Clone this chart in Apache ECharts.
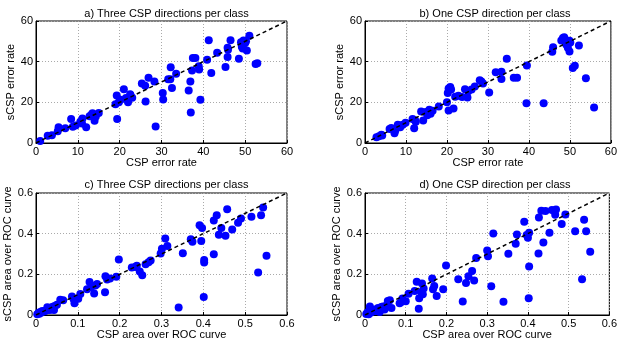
<!DOCTYPE html>
<html><head><meta charset="utf-8">
<script src="https://cdn.jsdelivr.net/npm/echarts@6/dist/echarts.min.js"></script>
<style>html,body{margin:0;padding:0;background:#fff}#c{width:620px;height:347px}</style>
</head><body><div id="c"></div>
<script>
const panelTitles = ['a) Three CSP directions per class','b) One CSP direction per class','c) Three CSP directions per class','d) One CSP direction per class'];
const xNames = ['CSP error rate','CSP error rate','CSP area over ROC curve','CSP area over ROC curve'];
const yNames = ['sCSP error rate','sCSP error rate','sCSP area over ROC curve','sCSP area over ROC curve'];
const errorRange = [0, 60]; const errorXStep = 10; const errorYStep = 20;
const aucRange = [0, 0.6]; const aucXStep = 0.1; const aucYStep = 0.2;

const threeDirError = [[1,1],[2.8,3.6],[3.8,3.8],[5.2,5.8],[5.4,7.7],[7,7.2],[8.4,11.8],[8.8,8],[9.5,8.6],[10.6,10.4],[11,9.6],[11.1,12],[12,7.8],[12.8,13.2],[13.2,13.8],[13.5,14.6],[14,11],[14.3,13],[15,14.8],[19,19],[19.3,23.3],[19.4,11.8],[19.8,20],[20.2,21.3],[21,26.4],[21.5,22.1],[22,20],[22.5,24],[23,22.3],[22.6,23.5],[25.3,29.3],[26.1,28.2],[26.2,20.4],[26.9,32.1],[28.3,30.2],[28.6,8.1],[30.3,24.6],[30.4,21.4],[31.6,31.4],[32.1,31.4],[32.2,37.2],[32.5,27],[33.5,34],[36.5,25.8],[36.9,30.3],[37,15],[37.3,35.7],[37.5,41.8],[38.1,41.8],[38.9,37.8],[39,36.1],[39.3,21.3],[40.9,41],[41.3,50.5],[41.9,34.4],[43.3,44.4],[45.3,37.4],[45.8,46.8],[45.9,45.8],[45.8,42.3],[46.5,50.5],[48.5,41.4],[49,49.5],[49.2,47.3],[49.5,48.4],[49.6,50.4],[50,49.2],[50.2,50],[49.4,46.5],[50.4,45.5],[51,52.8],[52.5,38.9],[52.9,39.2]];

const oneDirError = [[2.8,2.8],[3.4,3.3],[4,4.1],[4.2,3.7],[6,6.9],[6.4,7.4],[7.2,4.8],[7.4,6.2],[8,9],[8.6,7.8],[9.2,9],[9.9,10],[11.6,11.8],[12,7.2],[12.4,10.5],[12.2,11.2],[13.7,15.5],[14.2,11.1],[14.8,15.2],[15.2,13.6],[15.7,16.4],[16,14.4],[16.5,15.9],[18,18],[20,20],[20.2,24.6],[20.4,26.8],[20.8,27.5],[21,26.3],[20.4,16],[21.6,17],[22,22.7],[22.8,23.2],[23.7,22.6],[24.4,26.4],[25,22.4],[25.2,25.4],[26,26.3],[26.8,27.8],[28,30.8],[28.4,30.3],[28.8,29.3],[30.3,24.8],[31.9,34.8],[33.3,35.1],[33.3,31.5],[34.6,41.4],[36.3,32.1],[37.1,32.1],[39.5,38.1],[39.4,19.6],[43.6,19.5],[45.7,44.9],[45.9,47.1],[47.9,50.4],[48.3,51.6],[48.6,52],[49,50.6],[49.1,48.4],[49.5,46.8],[49.9,50.3],[50.1,49.4],[49.9,45],[50.7,36.9],[51.2,38],[52.2,47.9],[53.9,31.8],[55.9,17.5]];

const threeDirAuc = [[0.003,0.004],[0.006,0.01],[0.008,0.006],[0.01,0.015],[0.013,0.012],[0.015,0.02],[0.02,0.018],[0.024,0.022],[0.027,0.038],[0.033,0.024],[0.034,0.036],[0.04,0.04],[0.043,0.024],[0.045,0.044],[0.05,0.05],[0.058,0.075],[0.065,0.072],[0.086,0.091],[0.09,0.078],[0.092,0.058],[0.101,0.08],[0.106,0.103],[0.122,0.127],[0.128,0.162],[0.132,0.138],[0.139,0.106],[0.142,0.145],[0.146,0.152],[0.165,0.112],[0.166,0.19],[0.17,0.174],[0.177,0.18],[0.192,0.188],[0.198,0.273],[0.229,0.233],[0.237,0.236],[0.241,0.242],[0.248,0.214],[0.254,0.195],[0.262,0.25],[0.269,0.26],[0.274,0.268],[0.298,0.302],[0.301,0.326],[0.309,0.376],[0.314,0.339],[0.341,0.037],[0.351,0.304],[0.37,0.372],[0.374,0.36],[0.391,0.442],[0.397,0.428],[0.395,0.364],[0.402,0.271],[0.402,0.258],[0.401,0.089],[0.425,0.465],[0.432,0.491],[0.425,0.299],[0.437,0.395],[0.443,0.428],[0.453,0.39],[0.457,0.52],[0.469,0.42],[0.483,0.454],[0.49,0.475],[0.515,0.483],[0.531,0.209],[0.538,0.491],[0.543,0.529],[0.551,0.292]];

const oneDirAuc = [[0.003,0.005],[0.006,0.012],[0.009,0.004],[0.011,0.022],[0.012,0.042],[0.015,0.012],[0.02,0.018],[0.024,0.027],[0.028,0.02],[0.032,0.035],[0.036,0.015],[0.04,0.039],[0.044,0.042],[0.048,0.027],[0.054,0.05],[0.056,0.069],[0.061,0.073],[0.065,0.034],[0.085,0.058],[0.089,0.064],[0.092,0.081],[0.1,0.068],[0.107,0.104],[0.122,0.118],[0.127,0.163],[0.132,0.031],[0.133,0.082],[0.138,0.113],[0.14,0.155],[0.142,0.102],[0.144,0.13],[0.165,0.179],[0.167,0.127],[0.17,0.143],[0.176,0.094],[0.192,0.127],[0.199,0.244],[0.229,0.176],[0.24,0.067],[0.248,0.157],[0.254,0.19],[0.263,0.216],[0.268,0.17],[0.273,0.28],[0.3,0.317],[0.302,0.289],[0.31,0.142],[0.315,0.401],[0.34,0.065],[0.352,0.301],[0.37,0.35],[0.373,0.396],[0.391,0.458],[0.397,0.393],[0.4,0.38],[0.403,0.404],[0.402,0.082],[0.403,0.238],[0.426,0.302],[0.427,0.479],[0.433,0.513],[0.438,0.357],[0.443,0.511],[0.453,0.404],[0.459,0.517],[0.469,0.519],[0.467,0.493],[0.483,0.447],[0.492,0.494],[0.516,0.412],[0.533,0.176],[0.538,0.468],[0.543,0.412],[0.553,0.311]];

const panelData = [threeDirError, oneDirError, threeDirAuc, oneDirAuc];
const FONT = 'Liberation Sans, Arial, sans-serif';
const grids = [
  {left:36, top:21, width:251, height:122},
  {left:365, top:21, width:250, height:122},
  {left:36, top:193, width:251, height:122},
  {left:365, top:193, width:250, height:122}
];
const titleY = [3, 3, 174, 174];
const yNameGap = [10, 10, 14, 14];

const chart = echarts.init(document.getElementById('c'), null, {renderer:'canvas'});
const option = {
  backgroundColor:'#fff',
  animation:false,
  title: panelTitles.map((t,i)=>({
    text:t, left: grids[i].left + grids[i].width/2, top: titleY[i], textAlign:'center',
    textStyle:{fontSize:11, fontWeight:'normal', color:'#000', fontFamily:FONT}
  })),
  grid: grids.map(g=>Object.assign({show:true, borderColor:'#000', borderWidth:1, backgroundColor:'#fff', containLabel:false}, g)),
  xAxis: [0,1,2,3].map(i=>{
    const isErr = i < 2;
    const r = isErr ? errorRange : aucRange;
    return {
      type:'value', gridIndex:i, min:r[0], max:r[1], interval: isErr ? errorXStep : aucXStep,
      name: xNames[i], nameLocation:'middle', nameGap:12,
      nameTextStyle:{fontSize:11, color:'#000', fontFamily:FONT},
      axisLine:{show:true, onZero:false, lineStyle:{color:'#000', width:1}},
      axisTick:{show:true, inside:true, length:3, lineStyle:{color:'#000'}},
      axisLabel:{fontSize:11, color:'#000', margin:3, fontFamily:FONT, showMaxLabel:true, showMinLabel:true},
      splitLine:{show:true, lineStyle:{color:'#aaaaaa', type:[1,2], width:1}}
    };
  }),
  yAxis: [0,1,2,3].map(i=>{
    const isErr = i < 2;
    const r = isErr ? errorRange : aucRange;
    return {
      type:'value', gridIndex:i, min:r[0], max:r[1], interval: isErr ? errorYStep : aucYStep,
      name: yNames[i], nameLocation:'middle', nameGap:yNameGap[i],
      nameTextStyle:{fontSize:11, color:'#000', fontFamily:FONT},
      axisLine:{show:true, onZero:false, lineStyle:{color:'#000', width:1}},
      axisTick:{show:true, inside:true, length:3, lineStyle:{color:'#000'}},
      axisLabel:{fontSize:11, color:'#000', margin:3, fontFamily:FONT, showMaxLabel:true, showMinLabel:true},
      splitLine:{show:true, lineStyle:{color:'#aaaaaa', type:[1,2], width:1}}
    };
  }),
  series: []
};
panelData.forEach((d,i)=>{
  option.series.push({
    type:'scatter', xAxisIndex:i, yAxisIndex:i, data:d, symbol:'circle', symbolSize:8,
    itemStyle:{color:'#0000ff', opacity:1}, z:2
  });
  const r = i < 2 ? errorRange : aucRange;
  option.series.push({
    type:'line', xAxisIndex:i, yAxisIndex:i, data:[[r[0],r[0]],[r[1],r[1]]], symbol:'none',
    lineStyle:{color:'#000', width:1.5, type:[4,3]}, z:3, silent:true
  });
});
chart.setOption(option);
</script></body></html>
